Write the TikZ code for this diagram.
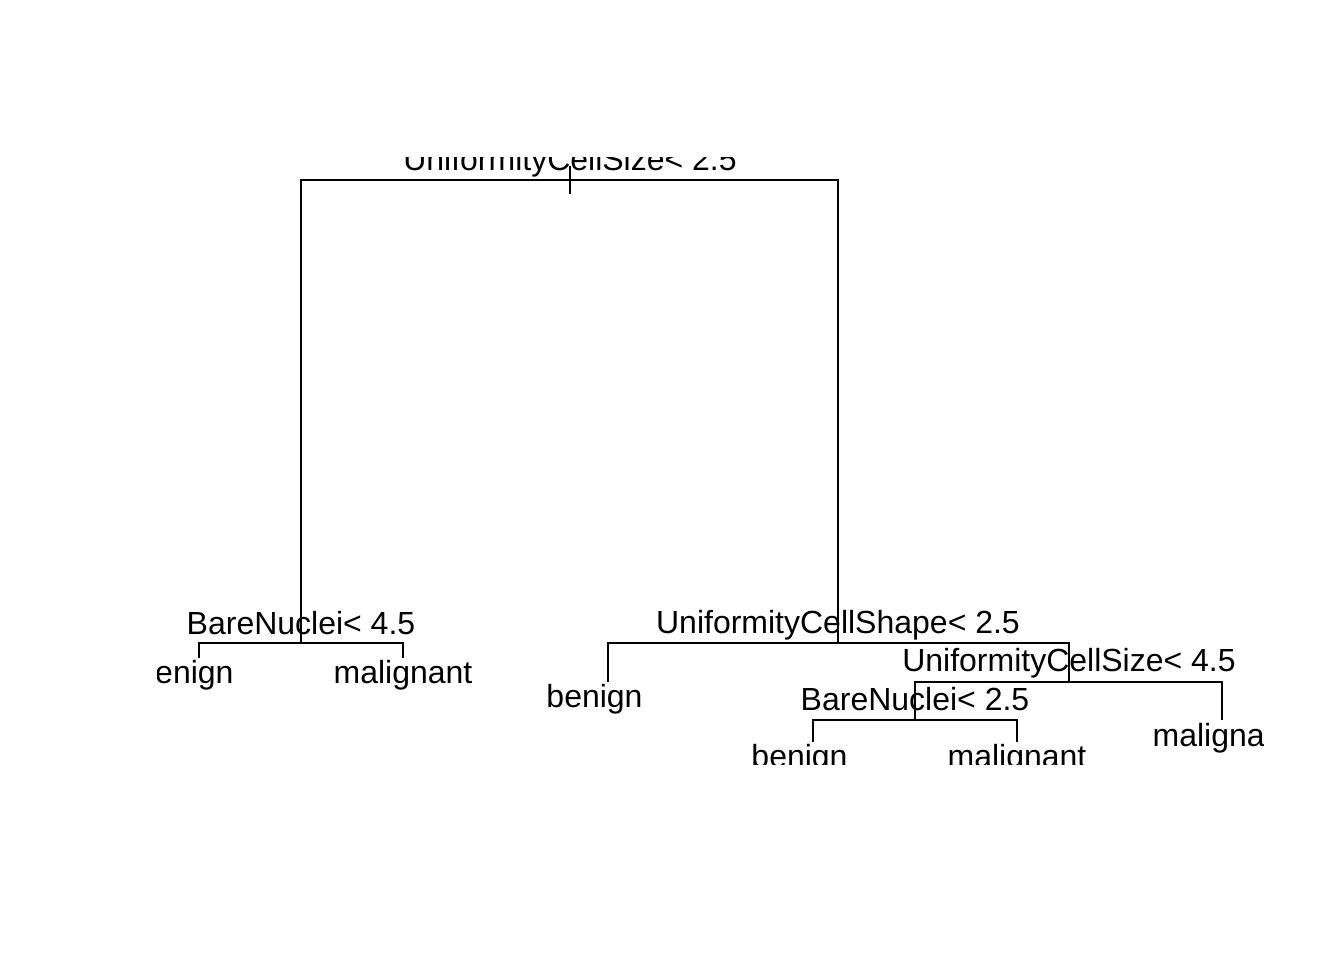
\documentclass[tikz,border=0pt]{standalone}
\usepackage{fontspec}
\setmainfont{Liberation Sans}
\begin{document}
\begin{tikzpicture}[x=0.5pt,y=-0.5pt,
  lbl/.style={anchor=base,inner sep=0pt,font=\fontsize{16}{19}\selectfont},
  edge/.style={line width=1pt}]
\useasboundingbox (0,0) rectangle (1344,960);
\begin{scope}
\clip (157,157) rectangle (1263,764);
% split points and leaf ends
\coordinate (rtop) at (570,166);
\coordinate (rbot) at (570,194);
\coordinate (r) at (570,180);
\coordinate (rl) at (301,180);
\coordinate (rr) at (838,180);
\coordinate (L) at (301,643);
\coordinate (Ll) at (199,643);
\coordinate (Lr) at (403,643);
\coordinate (LlE) at (199,658);
\coordinate (LrE) at (403,658);
\coordinate (R) at (838,643);
\coordinate (Rl) at (608,643);
\coordinate (Rr) at (1069,643);
\coordinate (RlE) at (608,682);
\coordinate (RR) at (1069,682);
\coordinate (RRl) at (915,682);
\coordinate (RRr) at (1222,682);
\coordinate (RRrE) at (1222,720);
\coordinate (RRL) at (915,720);
\coordinate (RRLl) at (813,720);
\coordinate (RRLr) at (1017,720);
\coordinate (RRLlE) at (813,742);
\coordinate (RRLrE) at (1017,742);
% connectors
\draw[edge] (rtop) -- (rbot);
\draw[edge] (L) -- (rl) -- (rr) -- (R);
\draw[edge] (LlE) -- (Ll) -- (Lr) -- (LrE);
\draw[edge] (RlE) -- (Rl) -- (Rr) -- (RR);
\draw[edge] (RRL) -- (RRl) -- (RRr) -- (RRrE);
\draw[edge] (RRLlE) -- (RRLl) -- (RRLr) -- (RRLrE);
% labels
\node[lbl] (t1) at (570,170) {UniformityCellSize< 2.5};
\node[lbl] (t2) at (301,634) {BareNuclei< 4.5};
\node[lbl] (t3) at (185.5,683) {benign};
\node[lbl] (t4) at (403,683) {malignant};
\node[lbl] (t5) at (838,633) {UniformityCellShape< 2.5};
\node[lbl] (t6) at (594.5,707) {benign};
\node[lbl] (t7) at (1069,671) {UniformityCellSize< 4.5};
\node[lbl] (t8) at (1222,746) {malignant};
\node[lbl] (t9) at (915,710) {BareNuclei< 2.5};
\node[lbl] (t10) at (799.5,767) {benign};
\node[lbl] (t11) at (1017,767) {malignant};
\end{scope}
\end{tikzpicture}
\end{document}
